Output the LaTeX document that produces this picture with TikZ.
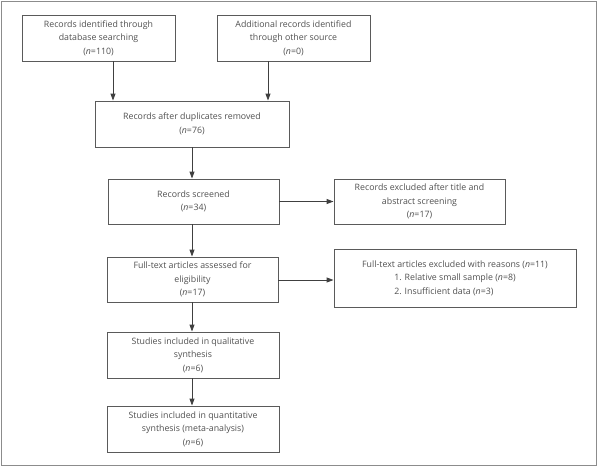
\documentclass[tikz,border=0pt]{standalone}
\usepackage{fontspec}
\usepackage{calc}
\setmainfont{Open Sans}
\usetikzlibrary{arrows.meta}
\definecolor{txt}{HTML}{505050}
\definecolor{frm}{HTML}{8C8C8C}
\definecolor{bx}{HTML}{5A5A5A}
\begin{document}
\begin{tikzpicture}[x=1pt,y=-1pt,
  box/.style={draw=bx,line width=0.9pt,align=center,text=txt,inner sep=2pt,
    font=\fontsize{8.8}{13.4}\selectfont},
  arr/.style={draw=black!75,line width=0.9pt,-{Triangle[length=7pt,width=5pt]}}]
\useasboundingbox (0,0) rectangle (597,466);
\draw[frm,line width=1pt] (1,1) rectangle (596,465);
\node[box,minimum width=153pt,minimum height=46pt] (b1) at (98.5,38)
  {Records identified through\\database searching\\(\textit{n}=110)};
\node[box,minimum width=153pt,minimum height=46pt] (b2) at (293.5,38)
  {Additional records identified\\through other source\\(\textit{n}=0)};
\node[box,minimum width=194pt,minimum height=46pt] (b3) at (192,124)
  {Records after duplicates removed\\(\textit{n}=76)};
\node[box,minimum width=171pt,minimum height=45pt] (b4) at (193.5,201.5)
  {Records screened\\(\textit{n}=34)};
\node[box,minimum width=171pt,minimum height=45pt] (b5) at (192.5,279.5)
  {Full-text articles assessed for\\eligibility\\(\textit{n}=17)};
\node[box,minimum width=171pt,minimum height=45pt] (b6) at (419.5,201.5)
  {Records excluded after title and\\abstract screening\\(\textit{n}=17)};
\node[box,minimum width=242pt,minimum height=58pt] (b7) at (455,278)
  {Full-text articles excluded with reasons (\textit{n}=11)\\
   1. Relative small sample (\textit{n}=8)\\
   \makebox[\widthof{1. Relative small sample (\textit{n}=8)}][l]{2. Insufficient data (\textit{n}=3)}};
\node[box,minimum width=172pt,minimum height=46pt] (b8) at (193,355)
  {Studies included in qualitative\\synthesis\\(\textit{n}=6)};
\node[box,minimum width=172pt,minimum height=46pt] (b9) at (193,429)
  {Studies included in quantitative\\synthesis (meta-analysis)\\(\textit{n}=6)};
\coordinate (c1) at (113,0);
\coordinate (c2) at (268,0);
\coordinate (c3) at (192,0);
\draw[arr] (b1.south -| c1) -- (b3.north -| c1);
\draw[arr] (b2.south -| c2) -- (b3.north -| c2);
\draw[arr] (b3.south -| c3) -- (b4.north -| c3);
\draw[arr] (b4.south -| c3) -- (b5.north -| c3);
\draw[arr] (b5.south -| c3) -- (b8.north -| c3);
\draw[arr] (b8.south -| c3) -- (b9.north -| c3);
\draw[arr] (b4.east) -- (b6.west);
\draw[arr] (b5.east |- 0,280) -- (b7.west |- 0,280);
\end{tikzpicture}
\end{document}
